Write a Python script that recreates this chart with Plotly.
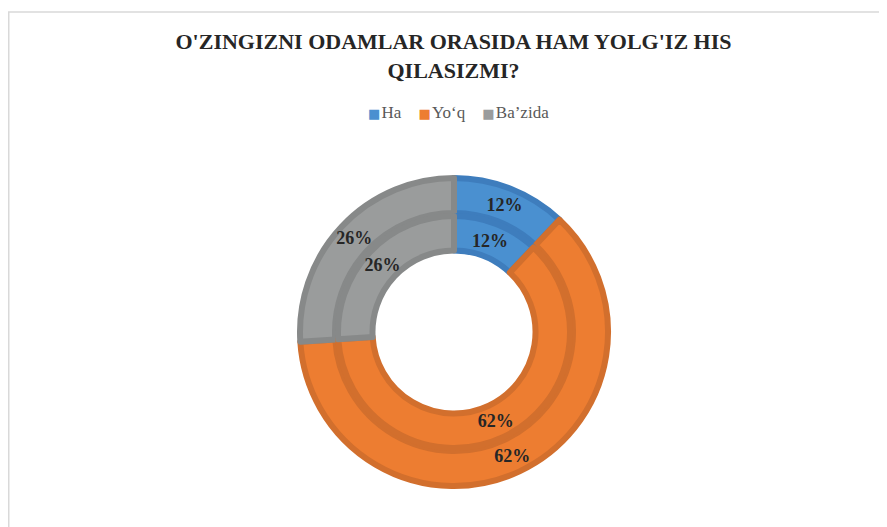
import plotly.graph_objects as go

labels = ["Ha", "Yo\u2018q", "Ba\u2019zida"]
outer_values = [12, 62, 26]
inner_values = [12, 62, 26]
title_text = "O'ZINGIZNI ODAMLAR ORASIDA HAM YOLG'IZ HIS<br>QILASIZMI?"

fill_colors = ["#4A90D0", "#ED7D31", "#9A9C9C"]
edge_colors = ["#3E7DBD", "#D26F2D", "#878989"]

W, H = 887, 527
OFF = 8  # page body margin
cx, cy = 454 - OFF, 332 - OFF  # centre in px from top-left of figure


def dom(r):
    return dict(x=[(cx - r) / W, (cx + r) / W],
                y=[(H - cy - r) / H, (H - cy + r) / H])


font_lbl = dict(family="Liberation Serif", size=18, color="#262626")
common = dict(labels=labels, sort=False, direction="clockwise", rotation=0,
              showlegend=False)

fig = go.Figure()
# visible rings
fig.add_trace(go.Pie(values=outer_values, hole=119 / 154, domain=dom(154),
                     marker=dict(colors=fill_colors, line=dict(color=edge_colors, width=6)),
                     textinfo="none", hoverinfo="label+percent", **common))
fig.add_trace(go.Pie(values=inner_values, hole=81.5 / 116, domain=dom(116),
                     marker=dict(colors=fill_colors, line=dict(color=edge_colors, width=6)),
                     textinfo="none", hoverinfo="label+percent", **common))
# transparent rings carrying the percentage labels (wider so text is placed at mid-angle)
clear = ["rgba(0,0,0,0)"] * len(labels)
fig.add_trace(go.Pie(values=outer_values, hole=114 / 160, domain=dom(160),
                     marker=dict(colors=clear, line=dict(width=0)),
                     texttemplate="<b>%{percent:.0%}</b>", textposition="inside",
                     insidetextorientation="horizontal", textfont=font_lbl,
                     hoverinfo="skip", **common))
fig.add_trace(go.Pie(values=inner_values, hole=76 / 120, domain=dom(120),
                     marker=dict(colors=clear, line=dict(width=0)),
                     texttemplate="<b>%{percent:.0%}</b>", textposition="inside",
                     insidetextorientation="horizontal", textfont=font_lbl,
                     hoverinfo="skip", **common))

# legend drawn as one line of text with coloured square glyphs
parts = []
for lab, col in zip(labels, fill_colors):
    parts.append(f"<span style='color:{col};font-size:13px;font-family:DejaVu Sans'>\u25A0\u200A</span>{lab}")
legend_text = "    ".join(parts)

fig.update_layout(
    width=W, height=H,
    margin=dict(l=0, r=0, t=0, b=0),
    paper_bgcolor="white", plot_bgcolor="white",
    showlegend=False,
    uniformtext=dict(minsize=18, mode="show"),
    title=dict(text="<b>" + title_text + "</b>", x=(453.5 - OFF) / W, xanchor="center",
               y=1 - 41 / H, yanchor="top",
               font=dict(family="Liberation Serif", size=22, color="#262626")),
    annotations=[dict(text=legend_text, xref="paper", yref="paper",
                      x=(458.5 - OFF) / W, y=1 - (113 - OFF) / H,
                      xanchor="center", yanchor="middle", showarrow=False,
                      font=dict(family="Liberation Serif", size=17, color="#595959"))],
    shapes=[dict(type="rect", xref="paper", yref="paper",
                 x0=0.75 / W, x1=1.02, y0=-0.02, y1=1 - 4 / H,
                 line=dict(color="#D9D9D9", width=1.5), layer="below")],
)

fig.write_html("out.html")
